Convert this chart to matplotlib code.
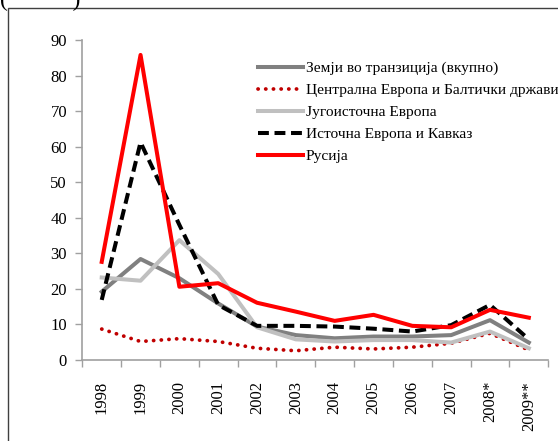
import numpy as np
import matplotlib
matplotlib.use("Agg")
import matplotlib.pyplot as plt
from matplotlib.patches import Rectangle

plt.rcParams['font.family'] = ['Liberation Serif', 'DejaVu Serif']

years = ['1998', '1999', '2000', '2001', '2002', '2003', '2004', '2005',
         '2006', '2007', '2008*', '2009**']

# values
total = [19.2, 28.4, 23.0, 15.9, 9.4, 7.0, 6.1, 6.6, 6.6, 7.0, 11.2, 4.9]
central = [8.7, 5.2, 6.0, 5.2, 3.3, 2.6, 3.6, 3.1, 3.6, 4.7, 7.5, 2.8]
southeast = [23.2, 22.3, 33.7, 24.2, 9.2, 5.8, 5.2, 5.6, 5.6, 4.9, 8.0, 3.3]
eastern = [16.9, 61.2, 38.0, 15.5, 9.6, 9.6, 9.4, 8.8, 8.0, 9.8, 15.5, 5.8]
russia = [27.6, 85.8, 20.6, 21.6, 16.1, 13.6, 11.0, 12.7, 9.6, 9.2, 14.1, 11.9]

labels = ['Земји во транзиција (вкупно)',
          'Централна Европа и Балтички држави',
          'Југоисточна Европа',
          'Источна Европа и Кавказ',
          'Русија']

fig = plt.figure(figsize=(5.58, 4.41), dpi=100)
ax = fig.add_axes([0.1475, 0.1837, 0.835, 0.7256])

x = np.arange(len(years))
ax.plot(x, total, color='#808080', lw=2.9, label=labels[0])
ax.plot(x, central, color='#c00000', lw=2.7, linestyle=(0, (0.05, 2.0)),
        dash_capstyle='round', label=labels[1])
ax.plot(x, southeast, color='#c0c0c0', lw=2.9, label=labels[2])
ax.plot(x, eastern, color='black', lw=2.9, linestyle=(0, (2.7, 1.4)),
        label=labels[3])
ax.plot(x, russia, color='#ff0000', lw=2.9, label=labels[4])

ax.set_xlim(-0.5, len(years) - 0.5)
ax.set_ylim(0, 90)
ax.set_yticks(np.arange(0, 91, 10))
ax.set_xticks(np.arange(-0.5, len(years), 1.0))
ax.set_xticklabels([])
ax.set_xticks(x, minor=True)
ax.set_xticklabels(years, minor=True, rotation=90)
ax.tick_params(axis='x', which='minor', length=0, pad=15, labelsize=12)
ax.tick_params(axis='x', which='major', length=5, width=1, color='#a0a0a0',
               direction='out')
ax.tick_params(axis='y', length=5, width=1, color='#a0a0a0', labelsize=12,
               pad=6)

for s in ['top', 'right']:
    ax.spines[s].set_visible(False)
for s in ['left', 'bottom']:
    ax.spines[s].set_color('#a0a0a0')
    ax.spines[s].set_linewidth(1.2)

ax.legend(loc='upper left', bbox_to_anchor=(0.462, 0.861),
          bbox_transform=fig.transFigure, frameon=False, fontsize=11.1,
          handlelength=2.9, handletextpad=0.2, labelspacing=0.53,
          borderaxespad=0, borderpad=0)

# outer frame, cut by the edges of the picture
fig.patches.append(Rectangle((8 / 558, -0.1), 1.2, 1 - 8 / 441 + 0.1,
                             transform=fig.transFigure, fill=False,
                             edgecolor='#404040', lw=1.0))
fig.text(0.0, 1.0, '(           )', fontsize=17, va='center', ha='left')

fig.savefig('out.png', dpi=100)
